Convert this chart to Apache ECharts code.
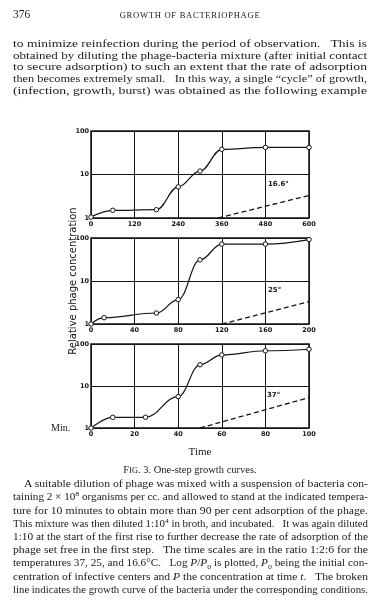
<!DOCTYPE html>
<html><head><meta charset="utf-8">
<script src="https://cdn.jsdelivr.net/npm/echarts@6/dist/echarts.min.js"></script>
<style>
html,body{margin:0;padding:0;background:#fff;width:379px;height:605px;overflow:hidden;}
#chart{position:absolute;left:0;top:0;width:379px;height:605px;}
.t{position:absolute;font-family:"Liberation Serif","DejaVu Serif",serif;color:#1a1a1a;white-space:nowrap;line-height:1;}
.j{position:absolute;white-space:nowrap;font-family:"Liberation Serif","DejaVu Serif",serif;color:#1a1a1a;line-height:1;transform-origin:0 50%;}
sup,sub{font-size:70%;line-height:0;}
</style></head>
<body>
<div id="chart"></div>
<div id="text"></div>
<script>
// ---- data ----
const panelTemps = ['16.6°', '25°', '37°'];
const time16 = [0, 60, 180, 240, 300, 360, 480, 600];
const phage16 = [1.05, 1.5, 1.55, 5.2, 12, 38, 42, 42];
const bactTime16 = [350, 600];
const bact16 = [1.0, 3.3];
const time25 = [0, 12, 60, 80, 100, 120, 160, 200];
const phage25 = [1.0, 1.4, 1.8, 3.7, 31, 72, 72, 92];
const bactTime25 = [120, 200];
const bact25 = [1.0, 3.3];
const time37 = [0, 10, 25, 40, 50, 60, 80, 100];
const phage37 = [1.0, 1.8, 1.8, 5.6, 32, 55, 69, 75];
const bactTime37 = [50, 100];
const bact37 = [1.0, 5.3];
const xMax = [600, 200, 100];
const xStep = [120, 40, 20];
const yMin = 1, yMax = 100;

// ---- page text ----
const headerNum = '376';
const headerTitle = 'GROWTH OF BACTERIOPHAGE';
const bodyLines = [
  'to minimize reinfection during the period of observation.  This is',
  'obtained by diluting the phage-bacteria mixture (after initial contact',
  'to secure adsorption) to such an extent that the rate of adsorption',
  'then becomes extremely small.  In this way, a single \u201ccycle\u201d of growth,',
  '(infection, growth, burst) was obtained as the following example'
];
const figTitle = 'F<span style="font-size:80%">IG</span>. 3. One-step growth curves.';
const captionLines = [
  'A suitable dilution of phage was mixed with a suspension of bacteria con-',
  'taining 2 \u00d7 10<sup>8</sup> organisms per cc. and allowed to stand at the indicated tempera-',
  'ture for 10 minutes to obtain more than 90 per cent adsorption of the phage.',
  'This mixture was then diluted 1:10<sup>4</sup> in broth, and incubated.  It was again diluted',
  '1:10 at the start of the first rise to further decrease the rate of adsorption of the',
  'phage set free in the first step.  The time scales are in the ratio 1:2:6 for the',
  'temperatures 37, 25, and 16.6\u00b0C.  Log <i>P</i>/<i>P</i><sub>0</sub> is plotted, <i>P</i><sub>0</sub> being the initial con-',
  'centration of infective centers and <i>P</i> the concentration at time <i>t</i>.  The broken',
  'line indicates the growth curve of the bacteria under the corresponding conditions.'
];

const host = document.getElementById('text');
function addJ(html, left, right, cy, size) {
  const d = document.createElement('div');
  d.className = 'j';
  d.style.left = left + 'px';
  d.style.top = (cy - size * 0.5) + 'px';
  d.style.fontSize = size + 'px';
  d.innerHTML = html.replace(/  /g, ' \u2002');
  host.appendChild(d);
  const w = d.getBoundingClientRect().width;
  d.style.transform = 'scaleX(' + ((right - left) / w) + ')';
}
function addT(html, left, cy, size, extra) {
  const d = document.createElement('div');
  d.className = 't';
  d.style.left = left + 'px';
  d.style.top = (cy - size * 0.5) + 'px';
  d.style.fontSize = size + 'px';
  d.innerHTML = html;
  if (extra) Object.assign(d.style, extra);
  host.appendChild(d);
  return d;
}
addT(headerNum, 13, 15, 11.5);
addT(headerTitle, 190, 15, 8.6, {letterSpacing: '0.7px', transform: 'translateX(-50%)'});
bodyLines.forEach((l, i) => addJ(l, 13, 367, 44 + i * 11.8, 10.6));
addT(figTitle, 190, 470, 10.5, {transform: 'translateX(-50%)'});
captionLines.forEach((l, i) => addJ(l, i === 0 ? 24 : 13, 368, 484 + i * 13.2, 9.8));

// ---- chart ----
const chart = echarts.init(document.getElementById('chart'), null, {renderer: 'canvas'});
const grids = [
  {left: 91, width: 218, top: 131, height: 87},
  {left: 91, width: 218, top: 238, height: 86},
  {left: 91, width: 218, top: 344, height: 84}
];
const times = [time16, time25, time37];
const phages = [phage16, phage25, phage37];
const bTimes = [bactTime16, bactTime25, bactTime37];
const bacts = [bact16, bact25, bact37];
const ink = '#151515';
const tickFont = {fontSize: 6.5, fontWeight: 'bold', fontFamily: 'DejaVu Sans', color: ink};

const option = {
  backgroundColor: '#fff',
  animation: false,
  grid: grids.map(g => Object.assign({show: true, borderColor: ink, borderWidth: 1.5, backgroundColor: 'transparent'}, g)),
  xAxis: grids.map((g, i) => ({
    type: 'value', gridIndex: i, min: 0, max: xMax[i], interval: xStep[i],
    axisLine: {show: false}, axisTick: {show: false},
    axisLabel: Object.assign({margin: 3}, tickFont),
    splitLine: {show: true, lineStyle: {color: ink, width: 1}}
  })),
  yAxis: grids.map((g, i) => ({
    type: 'log', logBase: 10, gridIndex: i, min: yMin, max: yMax, splitNumber: 2,
    axisLine: {show: false}, axisTick: {show: false},
    axisLabel: Object.assign({margin: 2}, tickFont, {formatter: v => String(Math.round(v))}),
    splitLine: {show: true, lineStyle: {color: ink, width: 1}}
  })),
  series: [].concat(
    times.map((t, i) => ({
      type: 'line', xAxisIndex: i, yAxisIndex: i,
      data: t.map((x, k) => [x, phages[i][k]]),
      smooth: 0.4, smoothMonotone: 'x',
      symbol: 'circle', symbolSize: 4.5,
      itemStyle: {color: '#fff', borderColor: ink, borderWidth: 1},
      lineStyle: {color: ink, width: 1.2},
      z: 5
    })),
    bTimes.map((t, i) => ({
      type: 'line', xAxisIndex: i, yAxisIndex: i,
      data: t.map((x, k) => [x, bacts[i][k]]),
      symbol: 'none',
      lineStyle: {color: ink, width: 1.3, type: [5, 3]},
      z: 4
    }))
  ),
  graphic: [
    {type: 'text', x: 268, y: 184, style: {text: panelTemps[0], font: 'bold 7px "DejaVu Sans"', fill: ink, textVerticalAlign: 'middle'}},
    {type: 'text', x: 268, y: 290, style: {text: panelTemps[1], font: 'bold 7px "DejaVu Sans"', fill: ink, textVerticalAlign: 'middle'}},
    {type: 'text', x: 267, y: 395, style: {text: panelTemps[2], font: 'bold 7px "DejaVu Sans"', fill: ink, textVerticalAlign: 'middle'}},
    {type: 'text', x: 73, y: 281, rotation: Math.PI / 2, style: {text: 'Relative phage concentration', font: '10px "DejaVu Sans"', fill: ink, textAlign: 'center', textVerticalAlign: 'middle'}},
    {type: 'text', x: 51, y: 428, style: {text: 'Min.', font: '10px "Liberation Serif"', fill: ink, textVerticalAlign: 'middle'}},
    {type: 'text', x: 200, y: 452, style: {text: 'Time', font: '11px "Liberation Serif"', fill: ink, textAlign: 'center', textVerticalAlign: 'middle'}}
  ]
};
chart.setOption(option);
</script>
</body></html>
